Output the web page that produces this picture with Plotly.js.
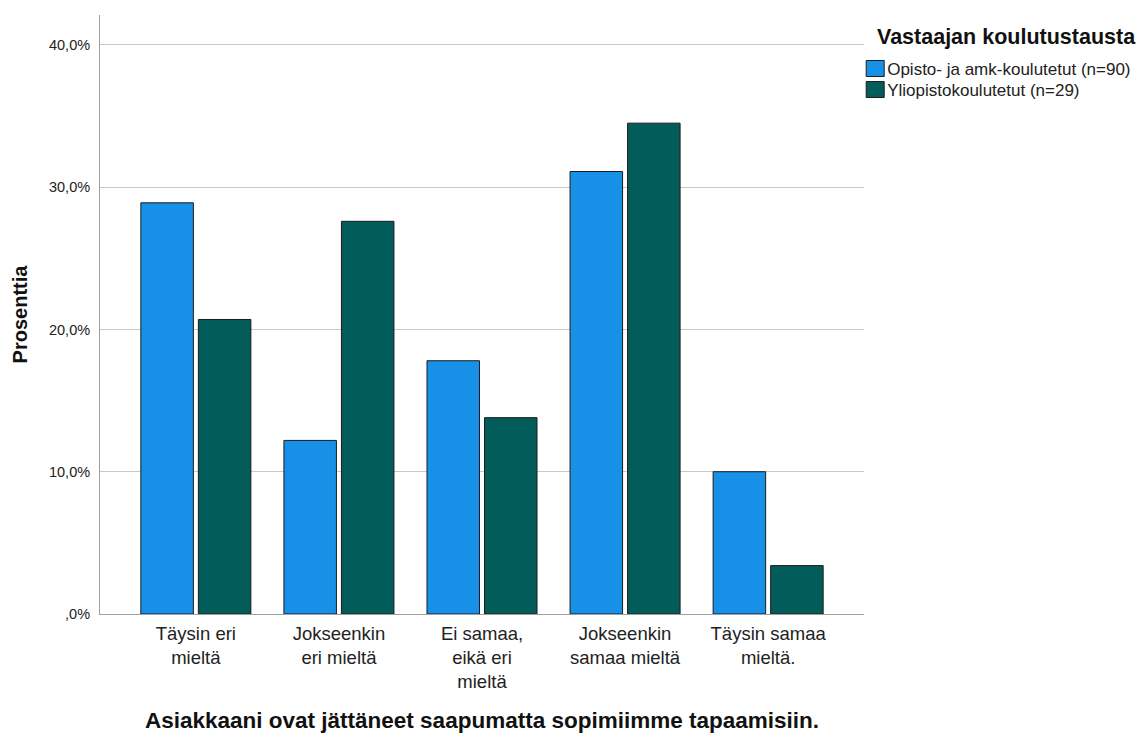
<!DOCTYPE html>
<html>
<head>
<meta charset="utf-8">
<script src="https://cdn.plot.ly/plotly-3.0.1.min.js"></script>
<style>html,body{margin:0;padding:0;background:#fff;}#chart{width:1142px;height:733px;}</style>
</head>
<body>
<div id="chart"></div>
<script>
const categories = ["Täysin eri<br>mieltä", "Jokseenkin<br>eri mieltä", "Ei samaa,<br>eikä eri<br>mieltä", "Jokseenkin<br>samaa mieltä", "Täysin samaa<br>mieltä."];
const seriesNames = ["Opisto- ja amk-koulutetut (n=90)", "Yliopistokoulutetut (n=29)"];
const opistoValues = [28.9, 12.2, 17.8, 31.1, 10.0];
const yliopistoValues = [20.7, 27.6, 13.8, 34.5, 3.4];
const yTickVals = [0, 10, 20, 30, 40];
const yTickText = [",0%", "10,0%", "20,0%", "30,0%", "40,0%"];
const legendTitle = "Vastaajan koulutustausta";
const xTitle = "Asiakkaani ovat jättäneet saapumatta sopimiimme tapaamisiin.";
const yTitle = "Prosenttia";

const font = "Liberation Sans, Arial, sans-serif";
const traces = [
  {type: "bar", name: seriesNames[0], x: categories, y: opistoValues,
   marker: {color: "#1791e8", line: {color: "#1c1c1c", width: 1}}, hoverinfo: "none"},
  {type: "bar", name: seriesNames[1], x: categories, y: yliopistoValues,
   marker: {color: "#025d5a", line: {color: "#1c1c1c", width: 1}}, hoverinfo: "none"}
];
const layout = {
  width: 1142, height: 733,
  margin: {l: 100, r: 278, t: 15, b: 119, autoexpand: false},
  paper_bgcolor: "#fff", plot_bgcolor: "#fff",
  font: {family: font, color: "#222"},
  barmode: "group", bargap: 0.196, bargroupgap: 0.087,
  showlegend: true,
  legend: {
    x: 0.978, xanchor: "left", y: 0.94, yanchor: "top",
    font: {family: font, size: 17, color: "#222"},
    tracegroupgap: 0, itemwidth: 30, bgcolor: "rgba(0,0,0,0)"
  },
  annotations: [{
    text: "<b>" + legendTitle + "</b>", xref: "paper", yref: "paper",
    x: 1.0144, y: 0.963, xanchor: "left", yanchor: "middle", showarrow: false,
    font: {family: font, size: 21.5, color: "#111"}
  }],
  xaxis: {
    type: "category", range: [-0.67, 4.67],
    showline: true, linecolor: "#a0a0a0", linewidth: 1,
    ticks: "", showgrid: false, zeroline: false,
    tickfont: {family: font, size: 18.5, color: "#222"},
    ticklabelstandoff: 3,
    title: {text: "<b>" + xTitle + "</b>", font: {family: font, size: 22.5, color: "#111"}, standoff: 20}
  },
  yaxis: {
    range: [0, 42.1], tickvals: yTickVals, ticktext: yTickText,
    showline: true, linecolor: "#a0a0a0", linewidth: 1,
    showgrid: true, gridcolor: "#c8c8c8", gridwidth: 1, zeroline: false,
    ticks: "", ticklen: 0, ticklabelstandoff: 6,
    tickfont: {family: font, size: 14.5, color: "#222"},
    title: {text: "<b>" + yTitle + "</b>", font: {family: font, size: 20, color: "#111"}, standoff: 15}
  }
};
Plotly.newPlot("chart", traces, layout, {displayModeBar: false, staticPlot: true}).then(function(gd){
  gd.querySelectorAll(".legend .legendpoints path").forEach(function(p){
    p.setAttribute("d", "M9,8H-9V-8H9Z");
    p.setAttribute("transform", "translate(28,0)");
  });
  var items = gd.querySelectorAll(".legend .traces");
  if (items.length) {
    var m0 = /translate\(([-\d.]+)[ ,]+([-\d.]+)\)/.exec(items[0].getAttribute("transform") || "");
    if (m0) {
      var x0 = parseFloat(m0[1]), y0 = parseFloat(m0[2]);
      items.forEach(function(it, i){
        it.setAttribute("transform", "translate(" + x0 + "," + (y0 + i * 21) + ")");
      });
    }
  }
});
</script>
</body>
</html>
